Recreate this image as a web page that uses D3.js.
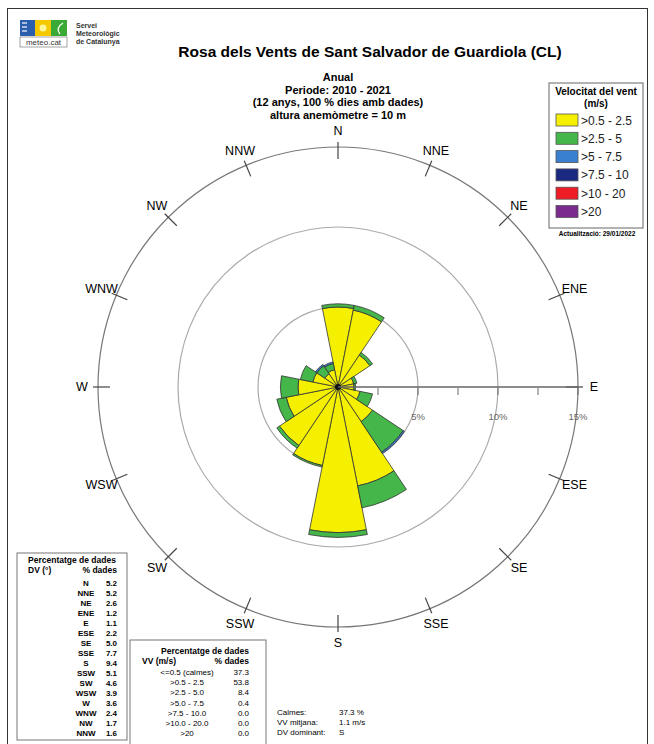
<!DOCTYPE html>
<html>
<head>
<meta charset="utf-8">
<script src="https://cdn.jsdelivr.net/npm/d3@7"></script>
<style>
  body { margin: 0; background: #fff; }
  svg { font-family: "Liberation Sans", Arial, sans-serif; }
</style>
</head>
<body>
<div id="rose"></div>
<script>
// wind rose data (percent of all observations)
const directions = ["N", "NNE", "NE", "ENE", "E", "ESE", "SE", "SSE",
                    "S", "SSW", "SW", "WSW", "W", "WNW", "NW", "NNW"];
const pctDir = [5.2, 5.2, 2.6, 1.2, 1.1, 2.2, 5.0, 7.7, 9.4, 5.1, 4.6, 3.9, 3.6, 2.4, 1.7, 1.6];
// split by speed class, read from the petals
const bin1 = [5.0, 4.9, 2.4, 1.0, 1.0, 1.4, 2.6, 6.3, 9.1, 5.0, 4.4, 3.3, 2.5, 1.6, 1.0, 1.1];
const bin2 = [0.2, 0.3, 0.2, 0.2, 0.1, 0.8, 2.3, 1.4, 0.3, 0.1, 0.2, 0.6, 1.1, 0.8, 0.6, 0.4];
const bin3 = [0, 0, 0, 0, 0, 0, 0.1, 0, 0, 0, 0, 0, 0, 0, 0.1, 0.1];

const speedLabels = [">0.5 - 2.5", ">2.5 - 5", ">5 - 7.5", ">7.5 - 10", ">10 - 20", ">20"];
const speedColors = ["#f4f000", "#45b649", "#3a80d0", "#1b2a80", "#ee1c24", "#7b2a8e"];

const vvLabels = ["<=0.5 (calmes)", ">0.5 - 2.5", ">2.5 - 5.0", ">5.0 - 7.5", ">7.5 - 10.0", ">10.0 - 20.0", ">20"];
const vvPct = ["37.3", "53.8", "8.4", "0.4", "0.0", "0.0", "0.0"];
const ringTicks = [5, 10, 15];

const W = 654, H = 744;
const cx = 338, cy = 387;

const svg = d3.select("#rose").append("svg")
    .attr("width", W).attr("height", H);

// outer frame
svg.append("rect")
    .attr("x", 7.5).attr("y", 8.5).attr("width", 640).attr("height", 760)
    .attr("fill", "none").attr("stroke", "#333");

// logo
const logo = svg.append("g").attr("transform", "translate(20,20)");
logo.append("rect").attr("width", 15).attr("height", 16).attr("fill", "#2b5fae");
[3, 7, 11].forEach(y => logo.append("line").attr("x1", 2).attr("x2", 7).attr("y1", y).attr("y2", y)
    .attr("stroke", "#fff").attr("stroke-width", 1.2));
logo.append("rect").attr("x", 15).attr("width", 16).attr("height", 16).attr("fill", "#f6c800");
logo.append("circle").attr("cx", 23).attr("cy", 8).attr("r", 3.5).attr("fill", "#fff59a");
logo.append("rect").attr("x", 31).attr("width", 16).attr("height", 16).attr("fill", "#3aa935");
logo.append("path").attr("d", "M43,3 Q35,8 40,14").attr("fill", "none").attr("stroke", "#fff").attr("stroke-width", 1.3);
logo.append("rect").attr("y", 17).attr("width", 47).attr("height", 10)
    .attr("fill", "#fff").attr("stroke", "#666").attr("stroke-width", 0.6);
logo.append("text").attr("x", 23.5).attr("y", 25).attr("text-anchor", "middle")
    .attr("font-size", 8).attr("fill", "#333").text("meteo.cat");
["Servei", "Meteorològic", "de Catalunya"].forEach((t, i) =>
    svg.append("text").attr("x", 76).attr("y", 28 + i * 8)
        .attr("font-size", 7).attr("font-weight", "bold").attr("fill", "#333").text(t));

// titles
svg.append("text").attr("x", 370).attr("y", 57).attr("text-anchor", "middle")
    .attr("font-size", 15.5).attr("font-weight", "bold").text("Rosa dels Vents de Sant Salvador de Guardiola (CL)");
["Anual", "Periode: 2010 - 2021", "(12 anys, 100 % dies amb dades)", "altura anemòmetre = 10 m"]
    .forEach((t, i) => svg.append("text").attr("x", cx).attr("y", 81 + i * 12.5)
        .attr("text-anchor", "middle").attr("font-size", 11).attr("font-weight", "bold").text(t));

// radial scale
const r = d3.scaleLinear().domain([0, 15]).range([0, 240]);
const step = 2 * Math.PI / directions.length;

const g = svg.append("g").attr("transform", `translate(${cx},${cy})`);

// range circles
g.selectAll("circle.ring").data(ringTicks).join("circle")
    .attr("class", "ring")
    .attr("r", d => r(d))
    .attr("fill", "none")
    .attr("stroke", d => d === 15 ? "#777" : "#aaa")
    .attr("stroke-width", 1.2);

// direction ticks and labels
g.selectAll("line.dir").data(directions).join("line")
    .attr("class", "dir")
    .attr("x1", (d, i) => Math.sin(i * step) * 228)
    .attr("y1", (d, i) => -Math.cos(i * step) * 228)
    .attr("x2", (d, i) => Math.sin(i * step) * 245)
    .attr("y2", (d, i) => -Math.cos(i * step) * 245)
    .attr("stroke", "#444").attr("stroke-width", 1.2);

g.selectAll("text.dir").data(directions).join("text")
    .attr("class", "dir")
    .attr("x", (d, i) => Math.sin(i * step) * 256)
    .attr("y", (d, i) => -Math.cos(i * step) * 256)
    .attr("dy", "0.35em")
    .attr("text-anchor", "middle")
    .attr("font-size", 12.5)
    .text(d => d);

// stacked petals
const rows = directions.map((d, i) => ({ dir: d, b1: bin1[i], b2: bin2[i], b3: bin3[i] }));
const stack = d3.stack().keys(["b1", "b2", "b3"])(rows);
const arc = d3.arc();

stack.forEach((layer, k) => {
    g.selectAll(`path.bin${k}`).data(layer).join("path")
        .attr("class", `bin${k}`)
        .attr("d", (d, i) => d[1] > d[0] ? arc({
            innerRadius: r(d[0]), outerRadius: r(d[1]),
            startAngle: i * step - step / 2, endAngle: i * step + step / 2
        }) : null)
        .attr("fill", speedColors[k])
        .attr("stroke", "#333")
        .attr("stroke-width", 0.8);
});

g.append("circle").attr("r", 3).attr("fill", "#111");

// radial axis towards E
g.append("line").attr("x1", 0).attr("x2", r(15)).attr("y1", 0).attr("y2", 0)
    .attr("stroke", "#666").attr("stroke-width", 1.5);
g.selectAll("line.tk").data(d3.range(2.5, 15.1, 2.5)).join("line")
    .attr("class", "tk")
    .attr("x1", d => r(d)).attr("x2", d => r(d))
    .attr("y1", 1).attr("y2", 8)
    .attr("stroke", "#666").attr("stroke-width", 1);
g.selectAll("text.tk").data(ringTicks).join("text")
    .attr("class", "tk")
    .attr("x", d => r(d)).attr("y", 33)
    .attr("text-anchor", "middle").attr("font-size", 9.5).attr("fill", "#666")
    .text(d => d + "%");

// legend
const lg = svg.append("g").attr("transform", "translate(549,83)");
lg.append("rect").attr("width", 94).attr("height", 145)
    .attr("fill", "#fff").attr("stroke", "#666");
lg.append("text").attr("x", 47).attr("y", 12).attr("text-anchor", "middle")
    .attr("font-size", 10).attr("font-weight", "bold").text("Velocitat del vent");
lg.append("text").attr("x", 47).attr("y", 24).attr("text-anchor", "middle")
    .attr("font-size", 10).attr("font-weight", "bold").text("(m/s)");
speedLabels.forEach((t, i) => {
    lg.append("rect").attr("x", 7).attr("y", 31 + i * 18.3).attr("width", 22).attr("height", 12)
        .attr("fill", speedColors[i]).attr("stroke", "#555").attr("stroke-width", 0.8);
    lg.append("text").attr("x", 32).attr("y", 41.5 + i * 18.3)
        .attr("font-size", 12).attr("fill", "#222").text(t);
});
svg.append("text").attr("x", 597).attr("y", 236).attr("text-anchor", "middle")
    .attr("font-size", 6.5).attr("font-weight", "bold").text("Actualització: 29/01/2022");

// table: % per direction
const t1 = svg.append("g").attr("transform", "translate(17,553)");
t1.append("rect").attr("width", 110).attr("height", 187).attr("fill", "#fff").attr("stroke", "#777");
t1.append("text").attr("x", 55).attr("y", 10).attr("text-anchor", "middle")
    .attr("font-size", 8.5).attr("font-weight", "bold").text("Percentatge de dades");
t1.append("text").attr("x", 11).attr("y", 20).attr("font-size", 8.5).attr("font-weight", "bold").text("DV (°)");
t1.append("text").attr("x", 100).attr("y", 20).attr("text-anchor", "end")
    .attr("font-size", 8.5).attr("font-weight", "bold").text("% dades");
directions.forEach((d, i) => {
    t1.append("text").attr("x", 69).attr("y", 33 + i * 10).attr("text-anchor", "middle")
        .attr("font-size", 8).attr("font-weight", "bold").text(d);
    t1.append("text").attr("x", 100).attr("y", 33 + i * 10).attr("text-anchor", "end")
        .attr("font-size", 8).attr("font-weight", "bold").text(pctDir[i].toFixed(1));
});

// table: % per speed class
const t2 = svg.append("g").attr("transform", "translate(130,640)");
t2.append("rect").attr("width", 136).attr("height", 110).attr("fill", "#fff").attr("stroke", "#777");
t2.append("text").attr("x", 75).attr("y", 14).attr("text-anchor", "middle")
    .attr("font-size", 8.5).attr("font-weight", "bold").text("Percentatge de dades");
t2.append("text").attr("x", 12).attr("y", 24).attr("font-size", 8.5).attr("font-weight", "bold").text("VV (m/s)");
t2.append("text").attr("x", 119).attr("y", 24).attr("text-anchor", "end")
    .attr("font-size", 8.5).attr("font-weight", "bold").text("% dades");
vvLabels.forEach((d, i) => {
    t2.append("text").attr("x", 57).attr("y", 35 + i * 10.2).attr("text-anchor", "middle")
        .attr("font-size", 8).text(d);
    t2.append("text").attr("x", 119).attr("y", 35 + i * 10.2).attr("text-anchor", "end")
        .attr("font-size", 8).text(vvPct[i]);
});

// summary
[["Calmes:", "37.3 %"], ["VV mitjana:", "1.1 m/s"], ["DV dominant:", "S"]].forEach((p, i) => {
    svg.append("text").attr("x", 277).attr("y", 715 + i * 10).attr("font-size", 8)
        .text(p[0]);
    svg.append("text").attr("x", 339).attr("y", 715 + i * 10).attr("font-size", 8)
        .text(p[1]);
});
</script>
</body>
</html>
